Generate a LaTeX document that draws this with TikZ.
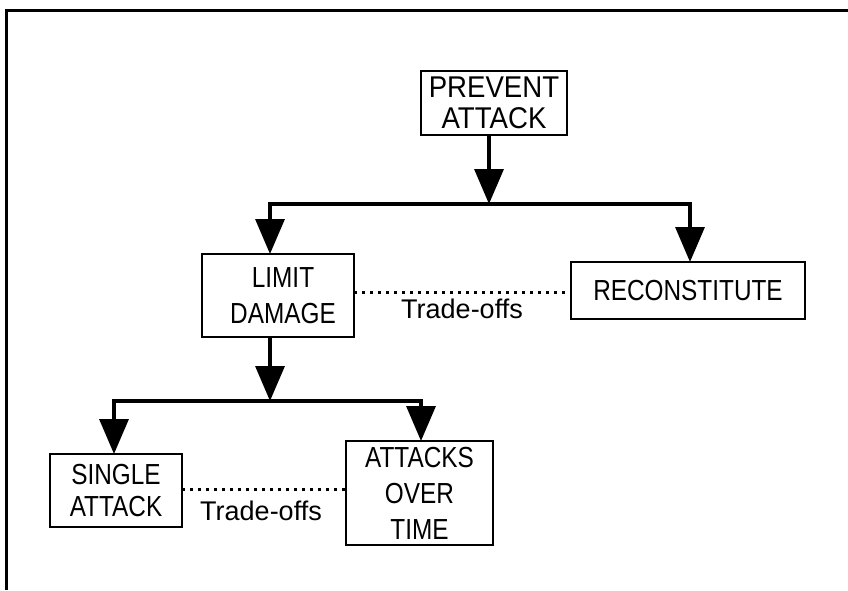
\documentclass[tikz,border=0pt]{standalone}
\usepackage{fontspec}
\setmainfont{Liberation Sans}
\newfontfamily\narrowfont[FakeStretch=0.84]{Liberation Sans}
\newfontfamily\headfont[FakeStretch=0.92]{Liberation Sans}
\usetikzlibrary{arrows.meta}
\begin{document}
\begin{tikzpicture}[x=1pt,y=-1pt,
  box/.style={draw, line width=2.8pt, inner sep=0pt, outer sep=0pt, align=center},
  link/.style={line width=3.4pt, -{Triangle[width=29pt,length=35pt]}},
  bus/.style={line width=3.4pt, line cap=rect},
  trade/.style={line width=3pt, dash pattern=on 3pt off 5pt},
  tlabel/.style={font=\fontsize{27}{30}\selectfont, inner sep=0pt, anchor=base}
]
\useasboundingbox (0,0) rectangle (848,590);
% open frame: left and top edges only
\draw[line width=3pt] (6,590) -- (6,10) -- (848,10);

% boxes
\node[box, minimum width=146pt, minimum height=64pt,
      font=\headfont\fontsize{30}{31}\selectfont] (prevent) at (494,103) {PREVENT\\ATTACK};
\node[box, minimum width=152pt, minimum height=83pt,
      font=\narrowfont\fontsize{29}{36}\selectfont] (limit) at (278,295.5) {\hspace*{10pt}LIMIT\\\hspace*{10pt}DAMAGE};
\node[box, minimum width=234pt, minimum height=57pt,
      font=\narrowfont\fontsize{29}{30}\selectfont] (recon) at (688,290.5) {RECONSTITUTE};
\node[box, minimum width=132pt, minimum height=73pt,
      font=\narrowfont\fontsize{29}{32}\selectfont] (single) at (116,490.5) {SINGLE\\ATTACK};
\node[box, minimum width=147pt, minimum height=104pt,
      font=\narrowfont\fontsize{29}{36}\selectfont] (attacks) at (419.5,493) {ATTACKS\\OVER\\TIME};

% first level of the tree
\coordinate (pj) at (489,204);
\coordinate (bl) at (270,204);
\coordinate (br) at (690,204);
\draw[link] (prevent.south -| pj) -- (pj);
\draw[bus] (bl) -- (br);
\draw[link] (bl) -- (limit.north -| bl);
\draw[link] (br) -- (recon.north -| br);

% second level of the tree
\coordinate (lj) at (270,401);
\coordinate (ll) at (114,401);
\coordinate (lr) at (421,401);
\draw[link] (limit.south -| lj) -- (lj);
\draw[bus] (ll) -- (lr);
\draw[link] (ll) -- (single.north -| ll);
\draw[link] (lr) -- (attacks.north -| lr);

% trade-off links
\coordinate (d1) at (0,292);
\coordinate (d2) at (0,489);
\draw[trade] (limit.east |- d1) -- (recon.west |- d1);
\draw[trade] (single.east |- d2) -- (attacks.west |- d2);
\node[tlabel] (t1) at (462,318) {Trade-offs};
\node[tlabel] (t2) at (261,520) {Trade-offs};
\end{tikzpicture}
\end{document}
